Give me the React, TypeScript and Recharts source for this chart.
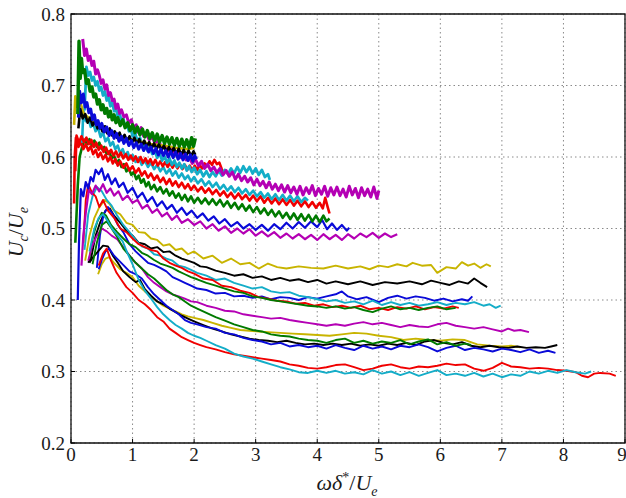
import { LineChart, Line, XAxis, YAxis, CartesianGrid, ReferenceArea } from 'recharts';

type Pt = [number, number];

const X_TICKS = [0, 1, 2, 3, 4, 5, 6, 7, 8, 9];
const Y_TICKS = [0.2, 0.3, 0.4, 0.5, 0.6, 0.7, 0.8];

// ---- lower family (long runs, thin lines) ----
const yellowLo1: Pt[] = [[0.23,0.455],[0.3,0.49],[0.38,0.515],[0.46,0.53],[0.55,0.54],[0.62,0.535],[0.7,0.525],[0.8,0.52],[0.9,0.508],[1.0,0.505],[1.1,0.495],[1.2,0.494],[1.3,0.486],[1.4,0.484],[1.5,0.476],[1.6,0.478],[1.7,0.47],[1.8,0.472],[1.9,0.464],[2.0,0.468],[2.15,0.458],[2.3,0.462],[2.45,0.452],[2.6,0.458],[2.75,0.45],[2.9,0.452],[3.05,0.444],[3.2,0.451],[3.35,0.446],[3.5,0.444],[3.7,0.447],[3.9,0.445],[4.1,0.444],[4.3,0.448],[4.5,0.444],[4.7,0.447],[4.85,0.443],[5.0,0.448],[5.15,0.446],[5.3,0.45],[5.45,0.447],[5.55,0.452],[5.7,0.448],[5.85,0.449],[5.95,0.438],[6.1,0.446],[6.25,0.444],[6.35,0.453],[6.45,0.448],[6.55,0.451],[6.65,0.445],[6.75,0.45],[6.82,0.447]];
const blackLo1: Pt[] = [[0.28,0.452],[0.33,0.46],[0.4,0.49],[0.48,0.51],[0.56,0.525],[0.63,0.528],[0.7,0.518],[0.8,0.508],[0.9,0.497],[1.0,0.49],[1.1,0.48],[1.2,0.478],[1.3,0.472],[1.4,0.474],[1.5,0.467],[1.6,0.468],[1.7,0.462],[1.8,0.458],[1.9,0.455],[2.0,0.452],[2.1,0.447],[2.2,0.446],[2.35,0.441],[2.5,0.438],[2.65,0.434],[2.8,0.436],[2.95,0.431],[3.1,0.433],[3.25,0.428],[3.4,0.431],[3.55,0.427],[3.7,0.429],[3.85,0.425],[4.0,0.428],[4.15,0.423],[4.3,0.426],[4.5,0.422],[4.7,0.426],[4.9,0.421],[5.1,0.425],[5.3,0.423],[5.5,0.426],[5.7,0.422],[5.85,0.427],[6.0,0.424],[6.15,0.421],[6.3,0.426],[6.45,0.423],[6.55,0.43],[6.65,0.424],[6.76,0.418]];
const blueLo1: Pt[] = [[0.42,0.445],[0.47,0.49],[0.53,0.52],[0.6,0.53],[0.68,0.52],[0.76,0.505],[0.85,0.495],[0.95,0.478],[1.05,0.468],[1.15,0.46],[1.25,0.452],[1.35,0.449],[1.45,0.445],[1.55,0.44],[1.65,0.432],[1.75,0.428],[1.85,0.424],[1.95,0.42],[2.05,0.416],[2.2,0.414],[2.35,0.409],[2.5,0.41],[2.65,0.405],[2.8,0.406],[2.95,0.403],[3.1,0.405],[3.25,0.401],[3.4,0.404],[3.55,0.403],[3.7,0.4],[3.85,0.404],[4.0,0.402],[4.15,0.405],[4.3,0.408],[4.4,0.412],[4.5,0.405],[4.65,0.401],[4.8,0.404],[5.0,0.397],[5.15,0.403],[5.3,0.406],[5.45,0.402],[5.6,0.405],[5.75,0.403],[5.9,0.399],[6.05,0.402],[6.2,0.398],[6.35,0.401],[6.45,0.399],[6.52,0.405]];
const cyanLo1: Pt[] = [[0.22,0.47],[0.28,0.52],[0.35,0.545],[0.42,0.558],[0.5,0.552],[0.58,0.54],[0.66,0.532],[0.75,0.518],[0.85,0.505],[0.95,0.495],[1.05,0.484],[1.15,0.475],[1.25,0.472],[1.35,0.464],[1.45,0.462],[1.55,0.458],[1.65,0.455],[1.75,0.448],[1.85,0.446],[1.95,0.442],[2.05,0.438],[2.2,0.434],[2.35,0.428],[2.5,0.43],[2.65,0.424],[2.8,0.42],[2.95,0.416],[3.1,0.418],[3.25,0.412],[3.4,0.41],[3.55,0.411],[3.7,0.406],[3.85,0.404],[4.0,0.401],[4.15,0.398],[4.3,0.4],[4.45,0.396],[4.6,0.398],[4.75,0.394],[4.9,0.399],[5.05,0.393],[5.2,0.397],[5.35,0.393],[5.5,0.396],[5.65,0.392],[5.8,0.394],[5.95,0.397],[6.1,0.393],[6.25,0.396],[6.4,0.394],[6.55,0.397],[6.7,0.392],[6.8,0.394],[6.9,0.389],[6.98,0.392]];
const redLo1: Pt[] = [[0.2,0.48],[0.24,0.54],[0.28,0.562],[0.34,0.55],[0.4,0.545],[0.46,0.53],[0.52,0.54],[0.6,0.525],[0.7,0.515],[0.8,0.5],[0.9,0.495],[1.0,0.486],[1.1,0.478],[1.2,0.474],[1.3,0.47],[1.4,0.468],[1.5,0.458],[1.6,0.452],[1.7,0.448],[1.8,0.445],[1.9,0.44],[2.0,0.437],[2.15,0.43],[2.3,0.428],[2.45,0.42],[2.6,0.418],[2.75,0.413],[2.9,0.41],[3.05,0.404],[3.2,0.402],[3.35,0.399],[3.5,0.398],[3.65,0.395],[3.8,0.396],[3.95,0.392],[4.1,0.394],[4.25,0.39],[4.4,0.392],[4.55,0.389],[4.7,0.392],[4.85,0.387],[5.0,0.389],[5.15,0.386],[5.3,0.39],[5.45,0.388],[5.6,0.391],[5.75,0.387],[5.9,0.39],[6.05,0.388],[6.2,0.391],[6.3,0.389]];
const greenLo1: Pt[] = [[0.3,0.458],[0.36,0.49],[0.43,0.51],[0.5,0.522],[0.57,0.518],[0.65,0.505],[0.75,0.495],[0.85,0.486],[0.95,0.478],[1.05,0.474],[1.15,0.466],[1.25,0.462],[1.35,0.456],[1.45,0.451],[1.55,0.448],[1.65,0.445],[1.75,0.44],[1.85,0.436],[1.95,0.432],[2.05,0.429],[2.2,0.424],[2.35,0.42],[2.5,0.416],[2.65,0.412],[2.8,0.41],[2.95,0.405],[3.1,0.403],[3.25,0.4],[3.4,0.398],[3.55,0.396],[3.7,0.394],[3.85,0.392],[4.0,0.391],[4.15,0.389],[4.3,0.391],[4.45,0.388],[4.6,0.39],[4.75,0.386],[4.9,0.383],[5.05,0.388],[5.2,0.391],[5.35,0.387],[5.5,0.389],[5.65,0.386],[5.8,0.389],[5.95,0.391],[6.1,0.387],[6.25,0.389]];
const magentaLo1: Pt[] = [[0.28,0.455],[0.34,0.475],[0.42,0.49],[0.5,0.5],[0.58,0.496],[0.66,0.49],[0.75,0.485],[0.85,0.474],[0.95,0.462],[1.05,0.452],[1.15,0.444],[1.25,0.432],[1.35,0.424],[1.45,0.418],[1.55,0.412],[1.65,0.408],[1.75,0.405],[1.85,0.402],[1.95,0.398],[2.05,0.397],[2.2,0.392],[2.35,0.389],[2.5,0.385],[2.65,0.384],[2.8,0.38],[2.95,0.378],[3.1,0.376],[3.25,0.374],[3.4,0.375],[3.55,0.372],[3.7,0.37],[3.85,0.368],[4.0,0.366],[4.15,0.364],[4.3,0.366],[4.45,0.364],[4.6,0.367],[4.75,0.369],[4.9,0.366],[5.05,0.368],[5.2,0.365],[5.35,0.362],[5.5,0.365],[5.65,0.363],[5.8,0.362],[5.95,0.366],[6.1,0.368],[6.25,0.364],[6.4,0.362],[6.55,0.36],[6.7,0.362],[6.85,0.359],[7.0,0.356],[7.1,0.36],[7.2,0.357],[7.3,0.358],[7.44,0.355]];
const yellowLo2: Pt[] = [[0.44,0.436],[0.5,0.45],[0.56,0.458],[0.62,0.46],[0.7,0.452],[0.8,0.443],[0.9,0.438],[1.0,0.432],[1.1,0.42],[1.2,0.412],[1.3,0.405],[1.4,0.398],[1.5,0.392],[1.6,0.388],[1.7,0.384],[1.8,0.38],[1.9,0.377],[2.0,0.375],[2.15,0.372],[2.3,0.368],[2.45,0.364],[2.6,0.361],[2.75,0.358],[2.9,0.357],[3.05,0.356],[3.2,0.355],[3.4,0.354],[3.6,0.353],[3.8,0.352],[4.0,0.351],[4.2,0.35],[4.4,0.352],[4.6,0.354],[4.8,0.353],[5.0,0.35],[5.2,0.348],[5.4,0.344],[5.6,0.346],[5.8,0.344],[6.0,0.343],[6.2,0.345],[6.4,0.344],[6.6,0.338],[6.8,0.336],[7.0,0.335],[7.15,0.336],[7.3,0.334]];
const blackLo2: Pt[] = [[0.3,0.452],[0.36,0.46],[0.44,0.468],[0.52,0.476],[0.6,0.475],[0.68,0.462],[0.76,0.452],[0.85,0.44],[0.95,0.432],[1.05,0.425],[1.12,0.428],[1.2,0.415],[1.3,0.406],[1.4,0.398],[1.5,0.394],[1.6,0.388],[1.7,0.383],[1.8,0.378],[1.9,0.374],[2.0,0.37],[2.15,0.365],[2.3,0.36],[2.45,0.356],[2.6,0.352],[2.75,0.349],[2.9,0.346],[3.05,0.344],[3.2,0.343],[3.35,0.341],[3.5,0.343],[3.65,0.34],[3.8,0.338],[3.95,0.339],[4.1,0.337],[4.25,0.339],[4.4,0.337],[4.55,0.339],[4.7,0.336],[4.85,0.338],[5.0,0.336],[5.15,0.339],[5.3,0.337],[5.45,0.34],[5.6,0.337],[5.75,0.342],[5.9,0.344],[6.05,0.34],[6.2,0.338],[6.35,0.341],[6.5,0.336],[6.65,0.334],[6.8,0.336],[6.95,0.334],[7.1,0.333],[7.25,0.335],[7.4,0.333],[7.55,0.334],[7.7,0.333],[7.8,0.335],[7.9,0.337]];
const blueLo2: Pt[] = [[0.45,0.443],[0.5,0.456],[0.56,0.468],[0.62,0.472],[0.7,0.462],[0.78,0.455],[0.86,0.448],[0.95,0.44],[1.05,0.436],[1.15,0.43],[1.25,0.418],[1.35,0.408],[1.45,0.4],[1.55,0.392],[1.65,0.386],[1.75,0.38],[1.85,0.372],[1.95,0.368],[2.05,0.366],[2.2,0.362],[2.35,0.36],[2.5,0.354],[2.65,0.352],[2.8,0.347],[2.95,0.344],[3.1,0.342],[3.25,0.338],[3.4,0.34],[3.55,0.335],[3.7,0.337],[3.85,0.334],[4.0,0.336],[4.15,0.332],[4.3,0.337],[4.45,0.333],[4.6,0.33],[4.75,0.336],[4.9,0.332],[5.05,0.335],[5.2,0.331],[5.35,0.336],[5.5,0.334],[5.65,0.338],[5.8,0.334],[5.95,0.328],[6.1,0.333],[6.25,0.336],[6.4,0.33],[6.55,0.333],[6.7,0.331],[6.85,0.328],[7.0,0.332],[7.15,0.33],[7.3,0.327],[7.45,0.331],[7.6,0.326],[7.75,0.329],[7.87,0.326]];
const greenLo2: Pt[] = [[0.35,0.45],[0.42,0.48],[0.5,0.505],[0.58,0.51],[0.66,0.5],[0.75,0.488],[0.85,0.472],[0.95,0.462],[1.05,0.452],[1.15,0.444],[1.25,0.436],[1.35,0.43],[1.45,0.422],[1.55,0.414],[1.65,0.408],[1.75,0.404],[1.85,0.398],[1.95,0.392],[2.05,0.388],[2.2,0.382],[2.35,0.376],[2.5,0.371],[2.65,0.366],[2.8,0.362],[2.95,0.358],[3.1,0.356],[3.25,0.352],[3.4,0.35],[3.55,0.349],[3.7,0.346],[3.85,0.344],[4.0,0.343],[4.15,0.34],[4.3,0.344],[4.45,0.346],[4.6,0.34],[4.75,0.343],[4.9,0.339],[5.05,0.342],[5.2,0.34],[5.35,0.344],[5.5,0.338],[5.65,0.342],[5.8,0.345],[5.95,0.338],[6.1,0.341],[6.25,0.336],[6.4,0.339],[6.5,0.337]];
const redLo2: Pt[] = [[0.45,0.448],[0.52,0.465],[0.58,0.472],[0.65,0.455],[0.74,0.438],[0.82,0.428],[0.9,0.418],[1.0,0.41],[1.1,0.4],[1.2,0.394],[1.3,0.386],[1.4,0.376],[1.5,0.37],[1.6,0.36],[1.7,0.354],[1.8,0.348],[1.9,0.344],[2.0,0.34],[2.1,0.337],[2.2,0.334],[2.35,0.331],[2.5,0.327],[2.65,0.324],[2.8,0.322],[2.95,0.32],[3.1,0.318],[3.25,0.316],[3.4,0.314],[3.55,0.31],[3.7,0.308],[3.85,0.305],[4.0,0.304],[4.15,0.306],[4.3,0.309],[4.45,0.31],[4.6,0.306],[4.75,0.302],[4.9,0.304],[5.05,0.308],[5.2,0.31],[5.35,0.306],[5.5,0.304],[5.65,0.307],[5.8,0.306],[5.95,0.308],[6.1,0.311],[6.25,0.309],[6.4,0.31],[6.55,0.304],[6.7,0.301],[6.85,0.305],[7.0,0.312],[7.15,0.307],[7.3,0.306],[7.45,0.304],[7.6,0.305],[7.75,0.304],[7.9,0.302],[8.05,0.301],[8.2,0.299],[8.3,0.294],[8.4,0.292],[8.5,0.297],[8.6,0.298],[8.75,0.297],[8.85,0.294]];
const cyanLo2: Pt[] = [[0.3,0.468],[0.38,0.5],[0.45,0.515],[0.52,0.52],[0.6,0.51],[0.68,0.498],[0.76,0.49],[0.84,0.482],[0.92,0.465],[1.0,0.45],[1.1,0.428],[1.2,0.413],[1.3,0.402],[1.4,0.39],[1.5,0.38],[1.6,0.372],[1.7,0.365],[1.8,0.36],[1.9,0.354],[2.0,0.35],[2.1,0.347],[2.2,0.343],[2.35,0.337],[2.5,0.332],[2.65,0.325],[2.8,0.321],[2.95,0.318],[3.1,0.314],[3.25,0.31],[3.4,0.306],[3.55,0.303],[3.7,0.299],[3.85,0.298],[4.0,0.301],[4.15,0.298],[4.3,0.301],[4.45,0.297],[4.6,0.299],[4.75,0.296],[4.9,0.302],[5.05,0.297],[5.2,0.3],[5.35,0.295],[5.5,0.299],[5.65,0.294],[5.8,0.298],[5.95,0.302],[6.1,0.295],[6.25,0.297],[6.4,0.294],[6.55,0.298],[6.7,0.293],[6.85,0.297],[7.0,0.292],[7.15,0.296],[7.3,0.294],[7.45,0.3],[7.6,0.297],[7.75,0.301],[7.9,0.298],[8.05,0.302],[8.2,0.299],[8.35,0.297],[8.45,0.3]];

// ---- upper family (short runs, noisy, thicker) ----
const magentaHi2: Pt[] = [[0.17,0.448],[0.2,0.49],[0.24,0.522],[0.29,0.554],[0.34,0.548],[0.4,0.56],[0.46,0.552],[0.52,0.562],[0.58,0.55],[0.64,0.556],[0.7,0.546],[0.77,0.552],[0.84,0.54],[0.92,0.546],[1.0,0.536],[1.08,0.54],[1.16,0.528],[1.24,0.533],[1.32,0.522],[1.4,0.527],[1.48,0.517],[1.56,0.522],[1.64,0.512],[1.72,0.518],[1.8,0.508],[1.9,0.513],[2.0,0.505],[2.1,0.51],[2.2,0.5],[2.3,0.506],[2.4,0.497],[2.5,0.503],[2.6,0.494],[2.7,0.5],[2.8,0.493],[2.9,0.499],[3.0,0.49],[3.1,0.496],[3.2,0.489],[3.3,0.495],[3.4,0.487],[3.5,0.493],[3.6,0.486],[3.7,0.492],[3.8,0.485],[3.9,0.491],[4.0,0.484],[4.1,0.492],[4.2,0.485],[4.3,0.491],[4.4,0.484],[4.5,0.492],[4.6,0.486],[4.7,0.493],[4.8,0.488],[4.9,0.494],[5.0,0.487],[5.1,0.493],[5.2,0.488],[5.3,0.492]];
const blueHi2: Pt[] = [[0.11,0.4],[0.13,0.48],[0.16,0.555],[0.2,0.545],[0.24,0.565],[0.28,0.556],[0.32,0.572],[0.36,0.566],[0.4,0.582],[0.45,0.576],[0.5,0.584],[0.55,0.568],[0.6,0.576],[0.66,0.562],[0.72,0.57],[0.78,0.558],[0.85,0.564],[0.92,0.55],[1.0,0.557],[1.08,0.543],[1.16,0.55],[1.24,0.537],[1.32,0.544],[1.4,0.531],[1.48,0.538],[1.56,0.527],[1.64,0.533],[1.72,0.522],[1.8,0.529],[1.88,0.519],[1.96,0.525],[2.05,0.515],[2.14,0.521],[2.23,0.511],[2.32,0.517],[2.41,0.507],[2.5,0.513],[2.6,0.503],[2.7,0.509],[2.8,0.5],[2.9,0.506],[3.0,0.498],[3.1,0.505],[3.2,0.497],[3.3,0.506],[3.4,0.499],[3.5,0.508],[3.6,0.5],[3.7,0.509],[3.8,0.501],[3.9,0.51],[4.0,0.502],[4.08,0.512],[4.16,0.499],[4.24,0.507],[4.32,0.498],[4.4,0.505],[4.48,0.497],[4.52,0.501]];
const greenHi2: Pt[] = [[0.07,0.48],[0.09,0.52],[0.11,0.56],[0.14,0.6],[0.18,0.614],[0.22,0.624],[0.26,0.618],[0.3,0.625],[0.34,0.616],[0.38,0.623],[0.42,0.614],[0.46,0.62],[0.5,0.611],[0.54,0.614],[0.58,0.604],[0.62,0.608],[0.66,0.598],[0.7,0.602],[0.74,0.592],[0.78,0.596],[0.82,0.586],[0.86,0.59],[0.9,0.58],[0.94,0.584],[0.98,0.575],[1.02,0.579],[1.06,0.569],[1.1,0.574],[1.14,0.564],[1.18,0.569],[1.22,0.559],[1.26,0.565],[1.3,0.555],[1.35,0.561],[1.4,0.552],[1.45,0.558],[1.5,0.549],[1.55,0.555],[1.6,0.546],[1.65,0.552],[1.7,0.543],[1.75,0.549],[1.8,0.54],[1.85,0.547],[1.9,0.538],[1.95,0.545],[2.0,0.536],[2.06,0.543],[2.12,0.535],[2.18,0.542],[2.24,0.534],[2.3,0.541],[2.36,0.533],[2.42,0.54],[2.48,0.531],[2.54,0.538],[2.6,0.529],[2.66,0.536],[2.72,0.527],[2.78,0.534],[2.84,0.525],[2.9,0.532],[2.96,0.523],[3.02,0.53],[3.08,0.521],[3.14,0.528],[3.2,0.519],[3.26,0.526],[3.32,0.517],[3.38,0.524],[3.44,0.515],[3.5,0.522],[3.56,0.513],[3.62,0.521],[3.68,0.512],[3.74,0.52],[3.8,0.511],[3.86,0.519],[3.92,0.51],[3.98,0.518],[4.04,0.509],[4.1,0.518],[4.15,0.51],[4.2,0.514]];
const redHiB: Pt[] = [[0.05,0.535],[0.06,0.6],[0.08,0.627],[0.12,0.614],[0.16,0.621],[0.2,0.611],[0.24,0.618],[0.28,0.609],[0.32,0.615],[0.36,0.604],[0.4,0.61],[0.44,0.6],[0.48,0.606],[0.52,0.597],[0.56,0.603],[0.6,0.594],[0.64,0.6],[0.68,0.591],[0.72,0.597],[0.76,0.588],[0.8,0.594],[0.85,0.585],[0.9,0.591],[0.95,0.581],[1.0,0.587],[1.05,0.578],[1.1,0.584],[1.15,0.574],[1.2,0.58],[1.25,0.571],[1.3,0.577],[1.35,0.568],[1.4,0.574],[1.45,0.565],[1.5,0.571],[1.55,0.562],[1.6,0.569],[1.65,0.56],[1.7,0.566],[1.75,0.558],[1.8,0.564],[1.85,0.556],[1.9,0.562],[1.95,0.554],[2.0,0.56],[2.06,0.552],[2.12,0.558],[2.18,0.55],[2.24,0.556],[2.3,0.548],[2.36,0.554],[2.42,0.546],[2.48,0.552],[2.54,0.544],[2.6,0.55],[2.66,0.542],[2.72,0.549],[2.78,0.541],[2.84,0.547],[2.9,0.539],[2.96,0.546],[3.02,0.538],[3.08,0.545],[3.14,0.536],[3.2,0.543],[3.26,0.535],[3.32,0.542],[3.38,0.534],[3.44,0.541],[3.5,0.533],[3.56,0.54],[3.62,0.532],[3.68,0.539],[3.74,0.531],[3.8,0.538],[3.86,0.53],[3.92,0.537],[3.98,0.529],[4.04,0.536],[4.09,0.528],[4.13,0.543],[4.17,0.53],[4.2,0.521]];
const cyanHiB: Pt[] = [[0.18,0.62],[0.2,0.665],[0.24,0.65],[0.28,0.655],[0.32,0.642],[0.36,0.647],[0.4,0.636],[0.44,0.641],[0.48,0.628],[0.52,0.634],[0.56,0.622],[0.6,0.627],[0.64,0.616],[0.68,0.621],[0.72,0.611],[0.76,0.616],[0.8,0.605],[0.84,0.611],[0.88,0.601],[0.92,0.607],[0.96,0.597],[1.0,0.603],[1.05,0.593],[1.1,0.599],[1.15,0.589],[1.2,0.595],[1.25,0.586],[1.3,0.592],[1.35,0.583],[1.4,0.589],[1.45,0.58],[1.5,0.586],[1.55,0.577],[1.6,0.583],[1.65,0.574],[1.7,0.58],[1.75,0.571],[1.8,0.577],[1.85,0.569],[1.9,0.574],[1.95,0.566],[2.0,0.572],[2.06,0.563],[2.12,0.569],[2.18,0.56],[2.24,0.566],[2.3,0.558],[2.36,0.564],[2.42,0.555],[2.48,0.561],[2.54,0.553],[2.6,0.559],[2.66,0.551],[2.72,0.557],[2.78,0.549],[2.84,0.555],[2.9,0.547],[2.96,0.553],[3.02,0.545],[3.08,0.551],[3.14,0.543],[3.2,0.549],[3.26,0.541],[3.32,0.548],[3.38,0.54],[3.44,0.547],[3.5,0.539],[3.56,0.546],[3.62,0.538],[3.68,0.545],[3.74,0.537],[3.8,0.543],[3.85,0.539]];
const redHiA: Pt[] = [[0.07,0.58],[0.09,0.63],[0.13,0.62],[0.17,0.629],[0.21,0.621],[0.25,0.627],[0.29,0.618],[0.33,0.624],[0.37,0.614],[0.41,0.62],[0.45,0.61],[0.49,0.616],[0.53,0.607],[0.57,0.613],[0.61,0.604],[0.65,0.61],[0.69,0.602],[0.73,0.608],[0.77,0.6],[0.81,0.606],[0.85,0.598],[0.89,0.604],[0.93,0.596],[0.97,0.602],[1.01,0.595],[1.05,0.601],[1.09,0.593],[1.13,0.6],[1.17,0.592],[1.21,0.598],[1.25,0.591],[1.29,0.597],[1.33,0.589],[1.37,0.596],[1.41,0.588],[1.45,0.594],[1.49,0.587],[1.53,0.593],[1.57,0.586],[1.61,0.592],[1.65,0.585],[1.69,0.591],[1.73,0.584],[1.77,0.59],[1.81,0.583],[1.85,0.589],[1.89,0.582],[1.93,0.588],[1.97,0.581],[2.01,0.588],[2.05,0.582],[2.09,0.589],[2.13,0.584],[2.17,0.591],[2.21,0.587],[2.25,0.594],[2.29,0.589],[2.33,0.596],[2.37,0.59],[2.41,0.592],[2.45,0.583],[2.48,0.577]];
const cyanHiA: Pt[] = [[0.22,0.665],[0.25,0.726],[0.28,0.714],[0.31,0.719],[0.34,0.707],[0.37,0.712],[0.4,0.7],[0.43,0.706],[0.46,0.693],[0.49,0.698],[0.52,0.686],[0.55,0.692],[0.58,0.679],[0.61,0.684],[0.64,0.671],[0.67,0.677],[0.7,0.664],[0.73,0.669],[0.76,0.656],[0.79,0.662],[0.82,0.649],[0.85,0.654],[0.88,0.642],[0.91,0.647],[0.94,0.636],[0.97,0.64],[1.0,0.629],[1.04,0.634],[1.08,0.622],[1.12,0.627],[1.16,0.615],[1.2,0.62],[1.24,0.609],[1.28,0.614],[1.32,0.604],[1.36,0.609],[1.4,0.599],[1.44,0.605],[1.48,0.595],[1.52,0.601],[1.56,0.592],[1.6,0.598],[1.64,0.589],[1.68,0.595],[1.72,0.586],[1.76,0.592],[1.8,0.584],[1.84,0.59],[1.88,0.581],[1.92,0.587],[1.96,0.579],[2.0,0.585],[2.05,0.576],[2.1,0.582],[2.15,0.573],[2.2,0.58],[2.25,0.572],[2.3,0.579],[2.35,0.573],[2.4,0.581],[2.45,0.574],[2.5,0.582],[2.55,0.576],[2.6,0.584],[2.65,0.577],[2.7,0.586],[2.75,0.578],[2.8,0.587],[2.85,0.579],[2.9,0.586],[2.95,0.577],[3.0,0.584],[3.05,0.575],[3.1,0.582],[3.15,0.572],[3.2,0.576],[3.23,0.568]];
const magentaHi1: Pt[] = [[0.19,0.765],[0.22,0.742],[0.25,0.751],[0.28,0.735],[0.31,0.741],[0.34,0.728],[0.37,0.734],[0.4,0.716],[0.43,0.722],[0.46,0.714],[0.49,0.703],[0.52,0.708],[0.55,0.695],[0.58,0.701],[0.61,0.686],[0.64,0.69],[0.67,0.679],[0.7,0.681],[0.73,0.668],[0.76,0.674],[0.79,0.661],[0.82,0.666],[0.86,0.656],[0.9,0.659],[0.94,0.647],[0.98,0.652],[1.02,0.64],[1.06,0.645],[1.1,0.634],[1.14,0.641],[1.18,0.629],[1.22,0.633],[1.27,0.624],[1.32,0.628],[1.37,0.618],[1.42,0.624],[1.47,0.613],[1.52,0.617],[1.57,0.608],[1.62,0.614],[1.67,0.603],[1.72,0.607],[1.77,0.599],[1.82,0.605],[1.87,0.596],[1.92,0.6],[1.97,0.591],[2.02,0.597],[2.07,0.588],[2.12,0.594],[2.17,0.584],[2.22,0.59],[2.27,0.581],[2.32,0.586],[2.37,0.578],[2.42,0.584],[2.47,0.575],[2.52,0.581],[2.57,0.573],[2.62,0.579],[2.67,0.569],[2.72,0.576],[2.77,0.567],[2.82,0.573],[2.87,0.565],[2.92,0.571],[2.97,0.561],[3.02,0.569],[3.07,0.56],[3.12,0.566],[3.17,0.557],[3.22,0.565],[3.27,0.555],[3.32,0.562],[3.37,0.553],[3.42,0.561],[3.47,0.551],[3.52,0.56],[3.57,0.55],[3.62,0.558],[3.67,0.548],[3.72,0.559],[3.77,0.547],[3.82,0.557],[3.87,0.549],[3.92,0.56],[3.97,0.546],[4.02,0.556],[4.07,0.548],[4.12,0.559],[4.17,0.545],[4.22,0.557],[4.27,0.547],[4.32,0.558],[4.37,0.546],[4.42,0.555],[4.47,0.544],[4.52,0.559],[4.57,0.547],[4.62,0.556],[4.67,0.543],[4.72,0.557],[4.77,0.546],[4.82,0.555],[4.87,0.544],[4.92,0.558],[4.97,0.542],[5.0,0.553]];
const yellowHi: Pt[] = [[0.05,0.645],[0.07,0.685],[0.1,0.67],[0.14,0.68],[0.2,0.662],[0.28,0.655],[0.36,0.648],[0.45,0.642],[0.55,0.636],[0.65,0.632],[0.8,0.628],[0.95,0.625],[1.1,0.622],[1.3,0.618],[1.5,0.616],[1.7,0.613],[1.9,0.611],[2.0,0.613]];
const blackHi: Pt[] = [[0.12,0.64],[0.15,0.667],[0.19,0.654],[0.23,0.66],[0.27,0.648],[0.31,0.655],[0.35,0.644],[0.39,0.65],[0.43,0.64],[0.47,0.646],[0.51,0.636],[0.55,0.643],[0.59,0.633],[0.63,0.64],[0.67,0.63],[0.71,0.636],[0.75,0.627],[0.79,0.634],[0.83,0.624],[0.87,0.631],[0.91,0.622],[0.95,0.629],[0.99,0.62],[1.03,0.627],[1.07,0.618],[1.11,0.625],[1.15,0.616],[1.19,0.623],[1.23,0.614],[1.27,0.621],[1.31,0.612],[1.35,0.619],[1.39,0.611],[1.43,0.618],[1.47,0.609],[1.51,0.616],[1.55,0.607],[1.59,0.614],[1.63,0.606],[1.67,0.613],[1.71,0.604],[1.75,0.612],[1.79,0.603],[1.83,0.61],[1.87,0.602],[1.91,0.609],[1.95,0.601],[1.99,0.608],[2.02,0.603]];
const blueHi1: Pt[] = [[0.12,0.655],[0.14,0.692],[0.17,0.676],[0.2,0.688],[0.23,0.67],[0.26,0.676],[0.29,0.662],[0.32,0.667],[0.35,0.652],[0.38,0.659],[0.41,0.645],[0.44,0.651],[0.47,0.64],[0.5,0.647],[0.54,0.635],[0.58,0.642],[0.62,0.63],[0.66,0.637],[0.7,0.626],[0.74,0.633],[0.78,0.622],[0.82,0.629],[0.86,0.619],[0.9,0.626],[0.94,0.616],[0.98,0.623],[1.02,0.613],[1.06,0.62],[1.1,0.611],[1.14,0.618],[1.18,0.609],[1.22,0.616],[1.26,0.607],[1.3,0.614],[1.34,0.605],[1.38,0.612],[1.42,0.603],[1.46,0.611],[1.5,0.602],[1.54,0.609],[1.58,0.6],[1.62,0.608],[1.66,0.599],[1.7,0.607],[1.74,0.597],[1.78,0.605],[1.82,0.596],[1.86,0.604],[1.9,0.595],[1.94,0.603],[1.98,0.594],[2.01,0.602],[2.04,0.597]];
const greenHi1: Pt[] = [[0.11,0.66],[0.13,0.762],[0.15,0.71],[0.17,0.738],[0.19,0.718],[0.22,0.722],[0.25,0.703],[0.28,0.708],[0.31,0.692],[0.34,0.698],[0.37,0.684],[0.4,0.688],[0.43,0.674],[0.46,0.68],[0.49,0.666],[0.52,0.673],[0.55,0.661],[0.58,0.668],[0.61,0.656],[0.64,0.664],[0.67,0.652],[0.7,0.659],[0.73,0.648],[0.76,0.655],[0.8,0.644],[0.84,0.652],[0.88,0.641],[0.92,0.648],[0.96,0.637],[1.0,0.645],[1.04,0.634],[1.08,0.642],[1.12,0.631],[1.16,0.639],[1.2,0.628],[1.24,0.637],[1.28,0.626],[1.32,0.634],[1.36,0.623],[1.4,0.632],[1.44,0.621],[1.48,0.63],[1.52,0.619],[1.56,0.628],[1.6,0.618],[1.64,0.627],[1.68,0.616],[1.72,0.626],[1.76,0.615],[1.8,0.625],[1.84,0.614],[1.88,0.624],[1.92,0.613],[1.96,0.627],[1.99,0.615],[2.02,0.626]];

const COLORS = {
  b: '#0a0ad8',
  g: '#007a00',
  r: '#f00000',
  c: '#14adc8',
  m: '#b400b4',
  y: '#c8b400',
  k: '#000000',
};

// drawing order: first in list is drawn first (underneath)
const SERIES: { id: string; pts: Pt[]; color: string; width: number }[] = [
  { id: 'yLo1', pts: yellowLo1, color: COLORS.y, width: 1.9 },
  { id: 'kLo1', pts: blackLo1, color: COLORS.k, width: 1.9 },
  { id: 'bLo1', pts: blueLo1, color: COLORS.b, width: 1.9 },
  { id: 'cLo1', pts: cyanLo1, color: COLORS.c, width: 1.9 },
  { id: 'rLo1', pts: redLo1, color: COLORS.r, width: 1.9 },
  { id: 'gLo1', pts: greenLo1, color: COLORS.g, width: 1.9 },
  { id: 'mLo1', pts: magentaLo1, color: COLORS.m, width: 1.9 },
  { id: 'yLo2', pts: yellowLo2, color: COLORS.y, width: 1.9 },
  { id: 'kLo2', pts: blackLo2, color: COLORS.k, width: 1.9 },
  { id: 'bLo2', pts: blueLo2, color: COLORS.b, width: 1.9 },
  { id: 'gLo2', pts: greenLo2, color: COLORS.g, width: 1.9 },
  { id: 'rLo2', pts: redLo2, color: COLORS.r, width: 1.9 },
  { id: 'cLo2', pts: cyanLo2, color: COLORS.c, width: 1.9 },
  { id: 'mHi2', pts: magentaHi2, color: COLORS.m, width: 2.2 },
  { id: 'bHi2', pts: blueHi2, color: COLORS.b, width: 2.2 },
  { id: 'gHi2', pts: greenHi2, color: COLORS.g, width: 2.6 },
  { id: 'rHiB', pts: redHiB, color: COLORS.r, width: 2.6 },
  { id: 'cHiB', pts: cyanHiB, color: COLORS.c, width: 2.6 },
  { id: 'rHiA', pts: redHiA, color: COLORS.r, width: 2.6 },
  { id: 'cHiA', pts: cyanHiA, color: COLORS.c, width: 2.8 },
  { id: 'mHi1', pts: magentaHi1, color: COLORS.m, width: 3 },
  { id: 'yHi', pts: yellowHi, color: COLORS.y, width: 2.6 },
  { id: 'kHi', pts: blackHi, color: COLORS.k, width: 2.6 },
  { id: 'bHi1', pts: blueHi1, color: COLORS.b, width: 3 },
  { id: 'gHi1', pts: greenHi1, color: COLORS.g, width: 3.4 },
];

const FONT = "'Liberation Serif', 'Times New Roman', serif";

// tick label drawn as plain svg text so the serif face is applied
function SerifTick(props: any) {
  const { x, y, payload, textAnchor, dy, fmt } = props;
  return (
    <text x={x} y={y} dy={dy} textAnchor={textAnchor} fill="#1a1a1a" fontFamily={FONT} fontSize={19}>
      {fmt(payload.value)}
    </text>
  );
}

export default function App() {
  return (
    <div style={{ position: 'absolute', left: 0, top: 0, width: 626, height: 498, background: '#fff', fontFamily: FONT }}>
      <LineChart width={626} height={498} margin={{ top: 14, right: 1, bottom: 0, left: 0 }}>
        <CartesianGrid stroke="#8a8a8a" strokeWidth={1} strokeDasharray="1.5 3" />
        <XAxis
          type="number"
          dataKey="x"
          domain={[0, 9]}
          ticks={X_TICKS}
          allowDataOverflow
          height={55}
          tickSize={-4}
          tickMargin={9}
          axisLine={false}
          tickLine={{ stroke: '#000' }}
          tick={<SerifTick dy="0.71em" fmt={(v: number) => String(v)} />}
        />
        <XAxis xAxisId="top" orientation="top" type="number" domain={[0, 9]} ticks={X_TICKS} height={0} tickSize={-4} axisLine={false} tickLine={{ stroke: '#000' }} tick={false} />
        <YAxis
          type="number"
          domain={[0.2, 0.8]}
          ticks={Y_TICKS}
          allowDataOverflow
          width={71}
          tickSize={-4}
          tickMargin={10}
          axisLine={false}
          tickLine={{ stroke: '#000' }}
          tick={<SerifTick dy="0.355em" fmt={(v: number) => v.toFixed(1)} />}
        />
        <YAxis yAxisId="right" orientation="right" type="number" domain={[0.2, 0.8]} ticks={Y_TICKS} width={0} tickSize={-4} axisLine={false} tickLine={{ stroke: '#000' }} tick={false} />
        {SERIES.map((s) => (
          <Line
            key={s.id}
            data={s.pts.map(([x, y]) => ({ x, y }))}
            dataKey="y"
            type="linear"
            stroke={s.color}
            strokeWidth={s.width}
            strokeLinejoin="round"
            dot={false}
            activeDot={false}
            isAnimationActive={false}
          />
        ))}
        <ReferenceArea x1={0} x2={9} y1={0.2} y2={0.8} fill="none" fillOpacity={0} stroke="#111" strokeWidth={1.3} ifOverflow="visible" />
      </LineChart>
      <div style={{ position: 'absolute', left: 247, top: 466, width: 200, textAlign: 'center', fontSize: 22, lineHeight: '24px', color: '#1a1a1a' }}>
        <i>ωδ</i><sup style={{ fontSize: 14 }}>*</sup>/<i>U</i><sub style={{ fontSize: 14 }}><i>e</i></sub>
      </div>
      <div style={{ position: 'absolute', left: -80, top: 216, width: 200, textAlign: 'center', fontSize: 22, lineHeight: '24px', color: '#1a1a1a', transform: 'rotate(-90deg)' }}>
        <i>U</i><sub style={{ fontSize: 14 }}><i>c</i></sub>/<i>U</i><sub style={{ fontSize: 14 }}><i>e</i></sub>
      </div>
    </div>
  );
}
